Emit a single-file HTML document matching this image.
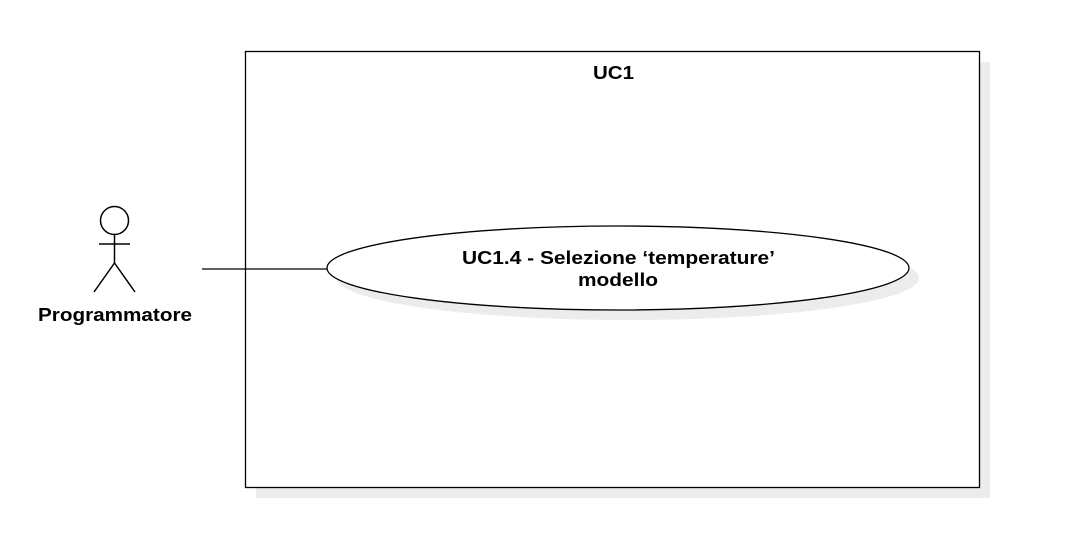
<!DOCTYPE html>
<html><head><meta charset="utf-8"><style>html,body{margin:0;padding:0;background:#fff;}svg{display:block;}</style></head>
<body>
<svg width="1078" height="535" viewBox="0 0 1078 535" xmlns="http://www.w3.org/2000/svg" font-family="Liberation Sans, sans-serif">
  <rect x="256" y="62" width="734" height="436" fill="#ececec"/>
  <rect x="245.5" y="51.5" width="734" height="436" fill="#fff" stroke="#000" stroke-width="1.3"/>
  <text x="613.5" y="79" text-anchor="middle" font-size="18" font-weight="bold" textLength="41" lengthAdjust="spacingAndGlyphs">UC1</text>
  <line x1="202" y1="269" x2="327" y2="269" stroke="#000" stroke-width="1.3"/>
  <ellipse cx="628" cy="278" rx="291" ry="42" fill="#ececec"/>
  <ellipse cx="618" cy="268" rx="291" ry="42" fill="#fff" stroke="#000" stroke-width="1.3"/>
  <text x="618.5" y="264" text-anchor="middle" font-size="18" font-weight="bold" textLength="313" lengthAdjust="spacingAndGlyphs">UC1.4 - Selezione ‘temperature’</text>
  <text x="618" y="286" text-anchor="middle" font-size="18" font-weight="bold" textLength="80" lengthAdjust="spacingAndGlyphs">modello</text>
  <g stroke="#000" stroke-width="1.5" fill="none">
    <circle cx="114.5" cy="220.5" r="14" fill="#fff"/>
    <line x1="114.5" y1="234.5" x2="114.5" y2="263"/>
    <line x1="99" y1="244" x2="130" y2="244"/>
    <line x1="114.5" y1="263" x2="94" y2="292"/>
    <line x1="114.5" y1="263" x2="135" y2="292"/>
  </g>
  <text x="115" y="321" text-anchor="middle" font-size="18" font-weight="bold" textLength="154" lengthAdjust="spacingAndGlyphs">Programmatore</text>
</svg>
</body></html>
